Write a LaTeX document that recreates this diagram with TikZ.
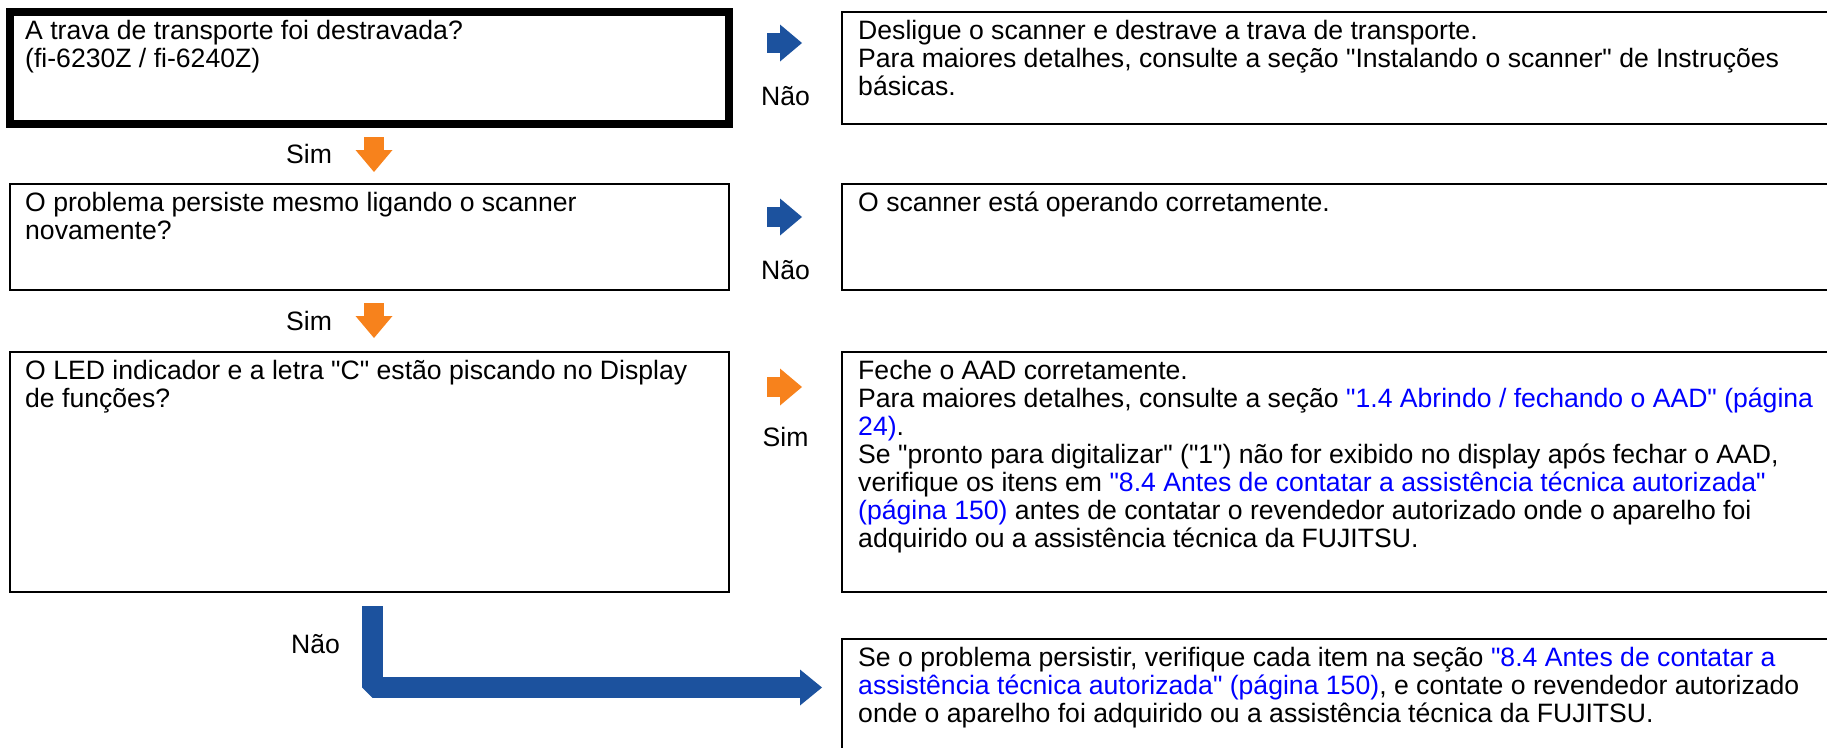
\documentclass[tikz,border=0pt]{standalone}
\usepackage{fontspec}
\newfontfamily\flowfont{Liberation Sans}
\usetikzlibrary{arrows.meta,positioning}
\definecolor{noblue}{RGB}{28,82,158}
\definecolor{simorange}{RGB}{247,130,28}
\definecolor{linkblue}{RGB}{0,0,255}
\tikzset{
  qbox/.style={rectangle,draw,line width=2.5pt,anchor=north west,
    inner sep=0pt,outer sep=0pt,minimum width=719pt},
  abox/.style={rectangle,draw,line width=2.5pt,anchor=north west,
    inner sep=0pt,outer sep=0pt,minimum width=1000pt},
  boxtext/.style={align=left,inner sep=0pt,font=\fontsize{26.6}{28}\flowfont},
  branch/.style={inner sep=0pt,font=\fontsize{26.6}{28}\flowfont},
  icon/.style={line width=20pt,-{Triangle[length=22pt,width=37pt,line width=0pt]}},
  noflow/.style={icon,draw=noblue},
  yesflow/.style={icon,draw=simorange},
  bigflow/.style={draw=noblue,line width=21pt,line join=bevel,
    -{Triangle[length=22pt,width=36pt,line width=0pt]}}}
\begin{document}
\begin{tikzpicture}[x=1pt,y=-1pt]
  \useasboundingbox (0,0) rectangle (1827,747);
  \clip (0,0) rectangle (1827,747);
  % questions
  \node[qbox,line width=8pt,minimum height=112pt] (q1) at (10,12) {};
  \node[qbox,minimum height=106pt] (q2) at (10,184) {};
  \node[qbox,minimum height=240pt] (q3) at (10,352) {};
  % answers
  \node[abox,minimum height=112pt] (a1) at (842,12) {};
  \node[abox,minimum height=106pt] (a2) at (842,184) {};
  \node[abox,minimum height=240pt] (a3) at (842,352) {};
  \node[abox,minimum height=130pt] (a4) at (842,639) {};

  \node[boxtext,below right=8pt and 15pt of q1.north west] (q1-text)
    {A trava de transporte foi destravada?\\(fi-6230Z / fi-6240Z)};
  \node[boxtext,below right=8pt and 15pt of q2.north west] (q2-text)
    {O problema persiste mesmo ligando o scanner\\novamente?};
  \node[boxtext,below right=8pt and 15pt of q3.north west] (q3-text)
    {O LED indicador e a letra "C" estão piscando no Display\\de funções?};
  \node[boxtext,below right=8pt and 16pt of a1.north west] (a1-text)
    {Desligue o scanner e destrave a trava de transporte.\\
     Para maiores detalhes, consulte a seção "Instalando o scanner" de Instruções\\
     básicas.};
  \node[boxtext,below right=8pt and 16pt of a2.north west] (a2-text)
    {O scanner está operando corretamente.};
  \node[boxtext,below right=8pt and 16pt of a3.north west] (a3-text)
    {Feche o AAD corretamente.\\
     Para maiores detalhes, consulte a seção \textcolor{linkblue}{"1.4 Abrindo / fechando o AAD" (página}\\
     \textcolor{linkblue}{24)}.\\
     Se "pronto para digitalizar" ("1") não for exibido no display após fechar o AAD,\\
     verifique os itens em \textcolor{linkblue}{"8.4 Antes de contatar a assistência técnica autorizada"}\\
     \textcolor{linkblue}{(página 150)} antes de contatar o revendedor autorizado onde o aparelho foi\\
     adquirido ou a assistência técnica da FUJITSU.};
  \node[boxtext,below right=8pt and 16pt of a4.north west] (a4-text)
    {Se o problema persistir, verifique cada item na seção \textcolor{linkblue}{"8.4 Antes de contatar a}\\
     \textcolor{linkblue}{assistência técnica autorizada" (página 150)}, e contate o revendedor autorizado\\
     onde o aparelho foi adquirido ou a assistência técnica da FUJITSU.};

  % Não / Sim branches
  \draw[noflow,shorten <=38pt,shorten >=40pt] ([yshift=-31pt]q1.north east) -- ([yshift=-31pt]a1.north west)
    node[branch,midway,below=33pt] (n1) {Não};
  \draw[noflow,shorten <=38pt,shorten >=40pt] ([yshift=-33pt]q2.north east) -- ([yshift=-33pt]a2.north west)
    node[branch,midway,below=33pt] (n2) {Não};
  \draw[yesflow,shorten <=38pt,shorten >=40pt] ([yshift=-35pt]q3.north east) -- ([yshift=-35pt]a3.north west)
    node[branch,midway,below=30pt] (s3) {Sim};
  \draw[yesflow,shorten <=13pt,shorten >=12pt] ([xshift=4.5pt]q1.south) -- ([xshift=4.5pt]q2.north)
    node[branch,midway,left=32pt] (s1) {Sim};
  \draw[yesflow,shorten <=13pt,shorten >=14pt] ([xshift=4.5pt]q2.south) -- ([xshift=4.5pt]q3.north)
    node[branch,midway,left=32pt] (s2) {Sim};
  \coordinate (turn) at (372.5,687.5);
  \draw[bigflow,shorten <=14pt,shorten >=20pt] (q3.south -| turn) |- (a4.west |- turn)
    node[branch,pos=0,anchor=east,xshift=-22pt,yshift=-52pt] (n3) {Não};
\end{tikzpicture}
\end{document}
